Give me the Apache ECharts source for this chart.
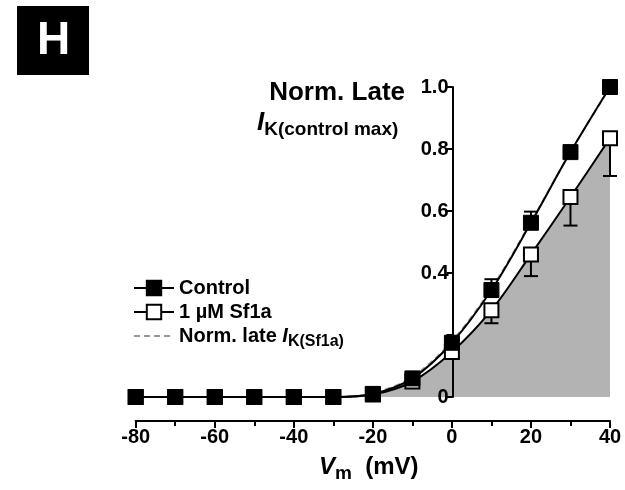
<!DOCTYPE html>
<html>
<head>
<meta charset="utf-8">
<script src="https://cdn.jsdelivr.net/npm/echarts@6/dist/echarts.min.js"></script>
<style>
  html, body { margin: 0; padding: 0; background: #fff; }
  #main { width: 625px; height: 490px; }
</style>
</head>
<body>
<div id="main"></div>
<script>
// membrane potential steps (mV)
var voltages = [-80, -70, -60, -50, -40, -30, -20, -10, 0, 10, 20, 30, 40];
// normalised late IK, control
var controlMean = [0, 0, 0, 0, 0, 0, 0.01, 0.06, 0.175, 0.345, 0.562, 0.79, 1.0];
var controlErr  = [0, 0, 0, 0, 0, 0, 0, 0, 0.012, 0.035, 0.036, 0.01, 0];
// 1 uM Sf1a
var sf1aMean = [0, 0, 0, 0, 0, 0, 0.008, 0.05, 0.145, 0.28, 0.46, 0.645, 0.835];
var sf1aErr  = [0, 0, 0, 0, 0, 0, 0, 0, 0.01, 0.042, 0.07, 0.092, 0.122];
// norm. late IK(Sf1a) fit (dashed grey)
var normLate = [0, 0, 0, 0, 0, 0, 0.012, 0.065, 0.18, 0.35, 0.565, 0.79, 1.0];
var yTicks = [0, 0.4, 0.6, 0.8, 1.0];

var FONT = "'Liberation Sans', Arial, sans-serif";
var SMOOTH = 0.35;

function pairs(arr) {
  return voltages.map(function (v, i) { return [v, arr[i]]; });
}
function errData(mean, err, dir) {
  return voltages.map(function (v, i) { return [v, mean[i], mean[i] + dir * err[i]]; });
}
function errRender(params, api) {
  var x = api.value(0), y0 = api.value(1), y1 = api.value(2);
  if (y0 === y1) return;
  var p0 = api.coord([x, y0]);
  var p1 = api.coord([x, y1]);
  var cap = 7;
  var st = { stroke: '#000', lineWidth: 2 };
  return {
    type: 'group',
    children: [
      { type: 'line', shape: { x1: p0[0], y1: p0[1], x2: p1[0], y2: p1[1] }, style: st },
      { type: 'line', shape: { x1: p1[0] - cap, y1: p1[1], x2: p1[0] + cap, y2: p1[1] }, style: st }
    ]
  };
}

var myChart = echarts.init(document.getElementById('main'));

var option = {
  animation: false,
  textStyle: { fontFamily: FONT },
  grid: { left: 135.7, right: 15, top: 87, bottom: 93 },
  legend: {
    orient: 'vertical',
    left: 128,
    top: 273,
    itemWidth: 40,
    itemHeight: 18,
    itemGap: 4,
    data: ['Control', '1 µM Sf1a', { name: 'norm', itemStyle: { opacity: 0 } }],
    textStyle: {
      fontFamily: FONT, fontSize: 20, fontWeight: 'bold', color: '#000',
      rich: {
        t: { fontFamily: FONT, fontSize: 20, fontWeight: 'bold', color: '#000' },
        i: { fontFamily: FONT, fontSize: 20, fontWeight: 'bold', fontStyle: 'italic', color: '#000' },
        s: { fontFamily: FONT, fontSize: 16, fontWeight: 'bold', color: '#000', padding: [12, 0, 0, 0] }
      }
    },
    formatter: function (name) {
      if (name === 'norm') return '{t|Norm. late }{i|I}{s|K(Sf1a)}';
      return name;
    }
  },
  xAxis: {
    type: 'value',
    min: -80,
    max: 40,
    interval: 20,
    offset: 24,
    axisLine: { onZero: false, lineStyle: { color: '#000', width: 2 } },
    axisTick: { length: 7, lineStyle: { color: '#000', width: 2 } },
    minorTick: { show: true, splitNumber: 2, length: 5, lineStyle: { color: '#000', width: 2 } },
    splitLine: { show: false },
    axisLabel: { color: '#000', fontSize: 20, fontWeight: 'bold', fontFamily: FONT, margin: 6 }
  },
  yAxis: {
    type: 'value',
    min: 0,
    max: 1,
    interval: 0.2,
    position: 'left',
    offset: -316.8,
    z: 3,
    axisLine: { show: true, onZero: false, lineStyle: { color: '#000', width: 2 } },
    axisTick: { show: true, length: 6, lineStyle: { color: '#000', width: 2 } },
    splitLine: { show: false },
    axisLabel: {
      color: '#000', fontSize: 20, fontWeight: 'bold', fontFamily: FONT, margin: 4,
      formatter: function (v) {
        var hit = yTicks.some(function (t) { return Math.abs(t - v) < 1e-6; });
        if (!hit) return '';
        return v === 0 ? '0' : v.toFixed(1);
      }
    }
  },
  graphic: [
    { type: 'rect', left: 17, top: 6, shape: { width: 72, height: 69 }, style: { fill: '#000' } },
    { type: 'text', left: 37, top: 18, style: { text: 'H', fill: '#fff', font: 'bold 46px ' + FONT } },
    { type: 'text', right: 220, top: 80, style: { text: 'Norm. Late', fill: '#000', font: 'bold 26px ' + FONT } },
    {
      type: 'text', left: 257, top: 110,
      style: {
        text: '{i|I}{s|K(control max)}',
        rich: {
          i: { font: 'italic bold 26px ' + FONT, fill: '#000' },
          s: { font: 'bold 19px ' + FONT, fill: '#000', padding: [14, 0, 0, 0] }
        }
      }
    },
    {
      type: 'text', left: 319, top: 455,
      style: {
        text: '{i|V}{s|m}{t|  (mV)}',
        rich: {
          i: { font: 'italic bold 24px ' + FONT, fill: '#000' },
          s: { font: 'bold 19px ' + FONT, fill: '#000', padding: [14, 0, 0, 0] },
          t: { font: 'bold 24px ' + FONT, fill: '#000' }
        }
      }
    }
  ],
  series: [
    {
      name: 'fill',
      type: 'line',
      data: pairs(sf1aMean),
      smooth: SMOOTH,
      symbol: 'none',
      lineStyle: { width: 0 },
      areaStyle: { color: '#b3b3b3', opacity: 1 },
      z: 1,
      silent: true
    },
    {
      name: 'norm',
      type: 'line',
      data: pairs(normLate),
      smooth: SMOOTH,
      symbol: 'none',
      itemStyle: { color: '#999' },
      lineStyle: { color: '#999', width: 2, type: [6, 4] },
      z: 4
    },
    {
      name: '1 µM Sf1a',
      type: 'line',
      data: pairs(sf1aMean),
      smooth: SMOOTH,
      symbol: 'rect',
      symbolSize: 14,
      clip: false,
      itemStyle: { color: '#fff', borderColor: '#000', borderWidth: 2 },
      lineStyle: { color: '#000', width: 2 },
      z: 5
    },
    {
      name: 'sf1aErr',
      type: 'custom',
      data: errData(sf1aMean, sf1aErr, -1),
      renderItem: errRender,
      z: 5
    },
    {
      name: 'Control',
      type: 'line',
      data: pairs(controlMean),
      smooth: SMOOTH,
      symbol: 'rect',
      symbolSize: 15,
      clip: false,
      itemStyle: { color: '#000', borderColor: '#000', borderWidth: 1 },
      lineStyle: { color: '#000', width: 2 },
      z: 6
    },
    {
      name: 'ctrlErr',
      type: 'custom',
      data: errData(controlMean, controlErr, 1),
      renderItem: errRender,
      z: 6
    }
  ]
};

myChart.setOption(option);
</script>
</body>
</html>
